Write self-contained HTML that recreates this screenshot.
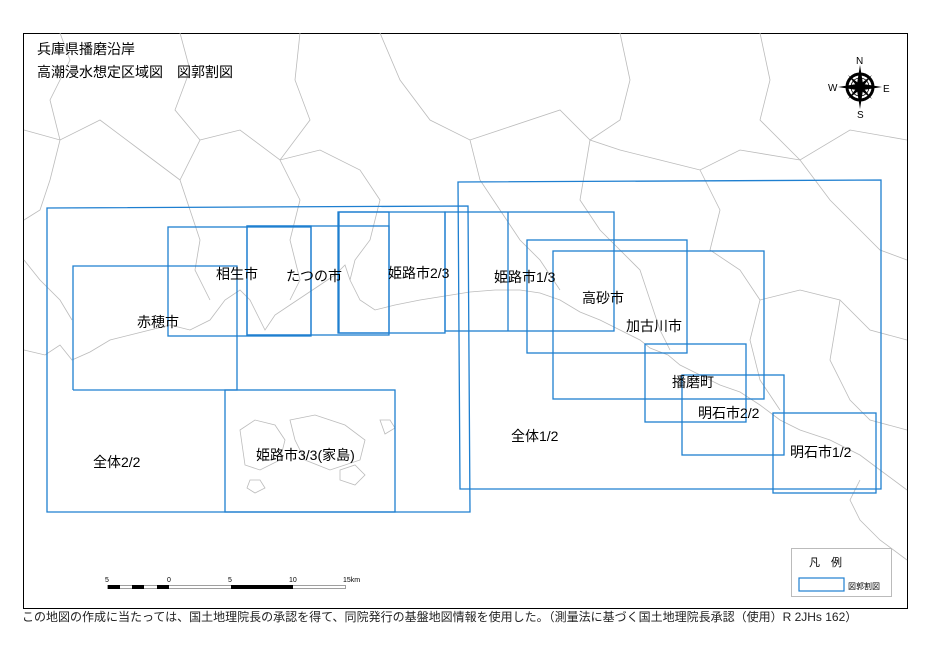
<!DOCTYPE html>
<html><head><meta charset="utf-8"><style>
html,body{margin:0;padding:0;background:#fff;}
body{width:930px;height:658px;overflow:hidden;position:relative;font-family:"Liberation Sans","Noto Sans CJK JP",sans-serif;}
svg{position:absolute;left:0;top:0;}
text{font-family:"Liberation Sans","Noto Sans CJK JP",sans-serif;}
</style></head><body>
<svg width="930" height="658" viewBox="0 0 930 658">
<rect x="23.5" y="33.5" width="884" height="575" fill="#fff" stroke="#000" stroke-width="1"/>
<g fill="none" stroke="#bbb" stroke-width="0.8">
<polyline points="24,350 45,355 60,345 72,360 90,352 110,340 130,335 150,330 170,325 190,330 210,320 225,300 240,290 250,300 260,320 265,330 275,315 290,305 305,295 320,285 335,275 345,265 350,280 360,300 375,310 395,305 420,300 445,296 470,292 495,290 520,290 540,293 560,300 580,312 600,320 620,330 640,340 650,348 668,355 680,365 700,375 720,385 740,392 760,405 780,420 800,430 830,440 860,455 880,470 907,490"/>
<polyline points="60,33 70,60 50,100 60,140 50,180 40,210 24,220"/>
<polyline points="180,33 190,70 175,110 200,140 180,180 190,210 200,240 195,270 210,300"/>
<polyline points="300,33 295,80 310,120 280,160 300,200 290,240 300,280 290,300"/>
<polyline points="200,140 240,130 280,160 320,150 360,170 380,200 370,240 355,260 350,280"/>
<polyline points="24,130 60,140 100,120 140,150 180,180"/>
<polyline points="380,33 400,80 430,120 470,140 500,130 560,110 590,140 620,150 660,160 700,170 740,150 800,160 850,130 907,140"/>
<polyline points="470,140 480,180 500,210 520,240 540,260 560,290"/>
<polyline points="590,140 580,200 600,230 620,250 640,270 650,300 660,330 670,350"/>
<polyline points="700,170 720,210 710,250 740,270 760,300 750,340 760,380 780,410"/>
<polyline points="620,33 630,80 620,120 590,140"/>
<polyline points="760,33 770,80 760,120 800,160"/>
<polyline points="800,160 830,200 860,230 880,250 907,260"/>
<polyline points="760,300 800,290 840,300 870,330 907,340"/>
<polyline points="840,300 830,360 850,400 870,420 907,430"/>
<polyline points="907,560 880,540 860,520 850,500 860,480"/>
<polyline points="24,260 40,280 60,300 72,320"/>
<path d="M240,430 l15,-10 20,5 10,15 -5,20 -20,10 -15,-5z"/>
<path d="M290,420 l25,-5 30,10 20,15 -5,20 -30,10 -25,-10 -10,-20z"/>
<path d="M340,470 l15,-5 10,10 -10,10 -15,-5z"/>
<path d="M250,480 l10,0 5,8 -10,5 -8,-5z"/>
<path d="M380,420 l10,0 5,8 -10,6z"/>
</g>
<g fill="none" stroke="#1e7fd0" stroke-width="1.3">
<polygon points="47,208 468,206 470,512 47,512"/>
<polyline points="73,390 73,266 237,266 237,390 73,390"/>
<rect x="225" y="390" width="170" height="122"/>
<rect x="168" y="227" width="143" height="109"/>
<rect x="247" y="226" width="64" height="109"/>
<rect x="247" y="226" width="142" height="109"/>
<rect x="339" y="212" width="50" height="121"/>
<rect x="338" y="212" width="107" height="121"/>
<rect x="445" y="212" width="169" height="119"/>
<line x1="508" y1="212" x2="508" y2="331"/>
<polygon points="458,182 881,180 881,489 460,489"/>
<rect x="527" y="240" width="160" height="113"/>
<rect x="553" y="251" width="211" height="148"/>
<rect x="645" y="344" width="101" height="78"/>
<rect x="682" y="375" width="102" height="80"/>
<rect x="773" y="413" width="103" height="80"/>
</g>
<g font-size="14" fill="#000">
<text x="37" y="54">兵庫県播磨沿岸</text>
<text x="37" y="77">高潮浸水想定区域図　図郭割図</text>
<text x="137" y="327">赤穂市</text>
<text x="216" y="279">相生市</text>
<text x="286" y="281">たつの市</text>
<text x="388" y="278">姫路市2/3</text>
<text x="494" y="282">姫路市1/3</text>
<text x="582" y="303">高砂市</text>
<text x="626" y="331">加古川市</text>
<text x="672" y="387">播磨町</text>
<text x="698" y="418">明石市2/2</text>
<text x="790" y="457">明石市1/2</text>
<text x="511" y="441">全体1/2</text>
<text x="93" y="467">全体2/2</text>
<text x="256" y="460">姫路市3/3(家島)</text>
</g>
<g transform="translate(860,87)">
<circle r="13" fill="none" stroke="#000" stroke-width="3"/>
<circle r="9" fill="none" stroke="#000" stroke-width="0.8"/>
<polygon points="0,-22 3.5,0 0,22 -3.5,0" fill="#000"/>
<polygon points="-22,0 0,3.5 22,0 0,-3.5" fill="#000"/>
<polygon points="-12,-12 1.5,-1.5 12,12 -1.5,1.5" fill="#000"/>
<polygon points="12,-12 1.5,1.5 -12,12 -1.5,-1.5" fill="#000"/>
<text x="-4" y="-23" font-size="10" font-family="Liberation Serif,serif">N</text>
<text x="-3" y="31" font-size="10" font-family="Liberation Serif,serif">S</text>
<text x="-32" y="4" font-size="10" font-family="Liberation Serif,serif">W</text>
<text x="23" y="5" font-size="10" font-family="Liberation Serif,serif">E</text>
</g>
<g>
<rect x="107.5" y="585.5" width="238" height="3" fill="#fff" stroke="#888" stroke-width="0.8"/>
<rect x="108" y="585" width="12" height="4" fill="#000"/>
<rect x="132" y="585" width="12" height="4" fill="#000"/>
<rect x="157" y="585" width="12" height="4" fill="#000"/>
<rect x="231" y="585" width="62" height="4" fill="#000"/>
<g font-size="7" fill="#000">
<text x="105" y="582">5</text><text x="167" y="582">0</text><text x="228" y="582">5</text><text x="289" y="582">10</text><text x="343" y="582">15km</text>
</g>
</g>
<rect x="791.5" y="548.5" width="100" height="48" fill="#fff" stroke="#bbb"/>
<text x="809" y="566" font-size="11">凡　例</text>
<rect x="799" y="578" width="45" height="13" fill="none" stroke="#1e7fd0" stroke-width="1.2"/>
<text x="848" y="589" font-size="8">図郭割図</text>
<text x="22" y="621" font-size="12" fill="#222">この地図の作成に当たっては、国土地理院長の承認を得て、同院発行の基盤地図情報を使用した。（測量法に基づく国土地理院長承認（使用）R 2JHs 162）</text>
</svg>
</body></html>
